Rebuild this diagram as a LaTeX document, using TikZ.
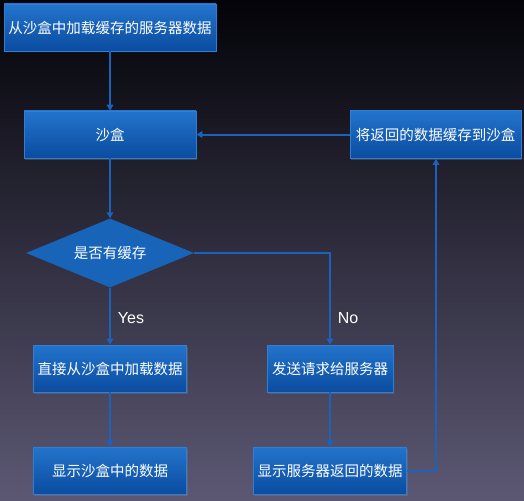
\documentclass[tikz,border=0pt]{standalone}
\usepackage{fontspec}
\setmainfont{Noto Sans CJK SC}
\newfontfamily\latinfont{Liberation Sans}
\usetikzlibrary{arrows.meta,shapes.geometric,shadows}
\definecolor{bgtop}{HTML}{030308}
\definecolor{bgmid}{HTML}{1D1B36}
\definecolor{bgbot}{HTML}{5C5874}
\definecolor{boxtop}{HTML}{2374CC}
\definecolor{boxbot}{HTML}{0A4CA0}
\definecolor{boxline}{HTML}{2F7FD6}
\definecolor{linkc}{HTML}{1A62BC}
\definecolor{diafill}{HTML}{1764B9}
\tikzset{
  flowbox/.style={rectangle, draw=boxline, line width=0.6pt, top color=boxtop, bottom color=boxbot,
    text=white, font=\fontsize{14.5}{17}\selectfont, inner sep=0pt,
    drop shadow={opacity=0.35, shadow xshift=1pt, shadow yshift=-1.5pt}},
  decision/.style={diamond, fill=diafill, text=white, font=\fontsize{14.5}{17}\selectfont,
    inner sep=0pt, aspect=2.4, minimum width=168pt, minimum height=69pt},
  link/.style={draw=linkc, line width=2pt, -{Triangle[width=6.5pt,length=6pt]}},
  lbl/.style={text=white, font=\latinfont\fontsize{16}{19}\selectfont, inner sep=0pt}
}
\begin{document}
\begin{tikzpicture}[x=1pt,y=-1pt]
\useasboundingbox (0,0) rectangle (524,500);
\shade[top color=bgtop, middle color=bgmid, bottom color=bgbot] (0,0) rectangle (524,500);
\node[flowbox, minimum width=212pt, minimum height=47pt] (load) at (110,27.5) {从沙盒中加载缓存的服务器数据};
\node[flowbox, minimum width=172pt, minimum height=47pt] (sandbox) at (110,134.5) {沙盒};
\node[flowbox, minimum width=171pt, minimum height=48pt] (cache) at (435.5,134.5) {将返回的数据缓存到沙盒};
\node[decision] (check) at (110,253) {是否有缓存};
\node[flowbox, minimum width=153pt, minimum height=47pt] (direct) at (110,368.5) {直接从沙盒中加载数据};
\node[flowbox, minimum width=153pt, minimum height=47pt] (showlocal) at (110,470.5) {显示沙盒中的数据};
\node[flowbox, minimum width=126pt, minimum height=47pt] (request) at (330,368.5) {发送请求给服务器};
\node[flowbox, minimum width=153pt, minimum height=47pt] (showremote) at (330,470.5) {显示服务器返回的数据};
\node[lbl] (yes) at (131,318) {Yes};
\node[lbl] (no) at (348,318) {No};
\coordinate (retcorner) at (436,470.5);
\draw[link] (load.south) -- (sandbox.north);
\draw[link] (sandbox.south) -- (check.north);
\draw[link] (check.south) -- (direct.north);
\draw[link] (direct.south) -- (showlocal.north);
\draw[link] (check.east) -| (request.north);
\draw[link] (request.south) -- (showremote.north);
\draw[link] (showremote.east) -- (retcorner) -- (retcorner |- cache.south);
\draw[link] (cache.west) -- (sandbox.east);
\end{tikzpicture}
\end{document}
